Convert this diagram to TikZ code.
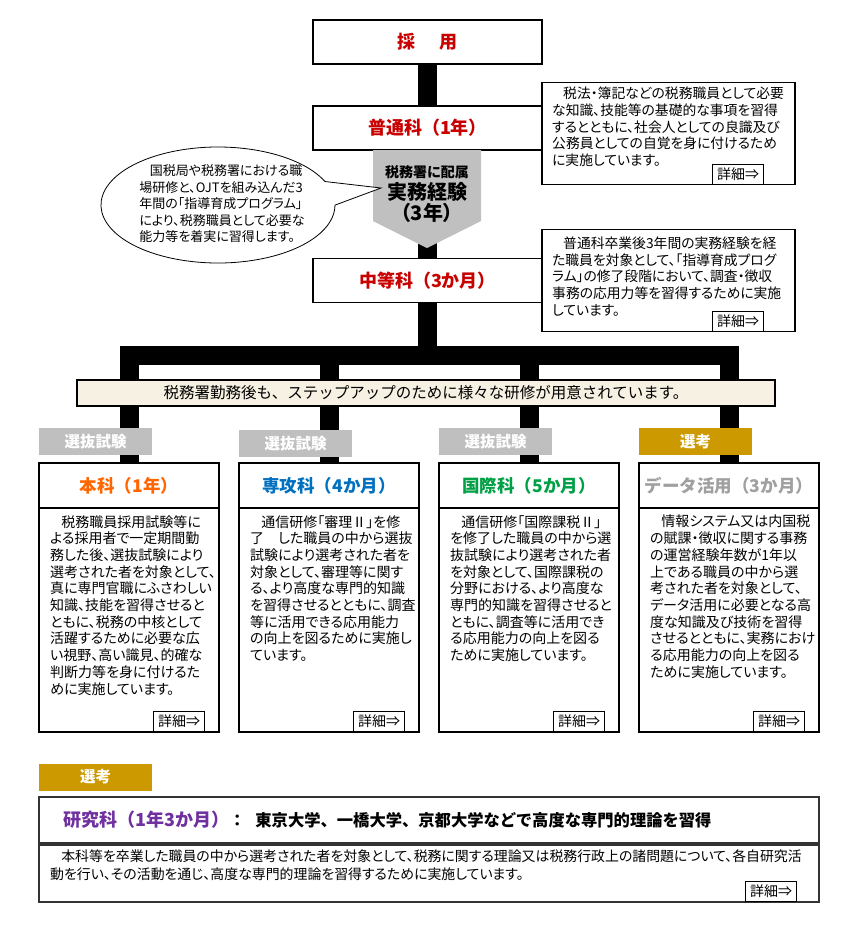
\documentclass[tikz,border=0pt]{standalone}
\usepackage{fontspec}
\setmainfont{Noto Sans CJK JP}[RawFeature={+palt}]
\newfontfamily\widefont{Noto Sans CJK JP}
\usetikzlibrary{positioning, shapes.callouts, backgrounds}
\definecolor{kred}{RGB}{200,0,0}
\definecolor{korange}{RGB}{255,102,0}
\definecolor{kblue}{RGB}{0,112,192}
\definecolor{kgreen}{RGB}{0,160,70}
\definecolor{kgray}{RGB}{160,160,160}
\definecolor{kpurple}{RGB}{112,48,160}
\definecolor{badgegray}{RGB}{191,191,191}
\definecolor{gold}{RGB}{204,153,0}
\definecolor{cream}{RGB}{246,241,226}
\definecolor{arrowgray}{RGB}{192,192,192}
\newcommand{\ind}{\hspace*{0.8em}}

\begin{document}
\begin{tikzpicture}[
    x=1pt, y=-1pt,
    boxframe/.style={rectangle, draw, fill=white, line width=1.1pt, inner sep=0pt, outer sep=0pt},
    mainbox/.style={boxframe, minimum width=229pt, minimum height=44pt, text=kred, font=\widefont\bfseries\fontsize{18}{22}\selectfont},
    descbox/.style={boxframe, minimum width=253pt, minimum height=102pt},
    desctext/.style={align=left, inner sep=0pt, anchor=north west, font=\fontsize{13.8}{16.7}\selectfont},
    detail/.style={draw, fill=white, line width=1pt, minimum width=51pt, minimum height=20pt, inner sep=0pt, anchor=south east, font=\fontsize{14}{16}\selectfont},
    course/.style={boxframe, minimum width=180pt, minimum height=45pt, font=\widefont\bfseries\fontsize{17.5}{20}\selectfont},
    coursebody/.style={boxframe, minimum width=180pt, minimum height=224pt},
    bodytext/.style={align=left, inner sep=0pt, anchor=north west, font=\fontsize{14}{16.7}\selectfont},
    badge/.style={fill=badgegray, text=white, minimum width=113pt, minimum height=27pt, inner sep=0pt, font=\bfseries\fontsize{15.5}{17}\selectfont},
    stem/.style={line width=19pt, black}
]
\useasboundingbox (0,0) rectangle (856,940);

% main column
\node[mainbox] (saiyo) at (427.5,42) {採\hspace{1.3em}用};
\node[mainbox, below=42pt of saiyo] (futsu) {普通科（1年）};
\node[mainbox] (chuto) at (427.5,280.5) {中等科（3か月）};
\coordinate (bar) at (427.5,355);

% 3 years on the job
\fill[arrowgray] (373,150) -- (481,150) -- (481,221) -- (427,248) -- (373,221) -- cycle;
\node[font=\bfseries\fontsize{14}{16}\selectfont] (haizoku) at (427,172) {税務署に配属};
\node[font=\bfseries\fontsize{20}{22}\selectfont] (jitsumu) at (427,192) {実務経験};
\node[font=\bfseries\fontsize{20}{22}\selectfont] (sannen) at (427,213) {（3年）};

\node[ellipse callout, draw, fill=white, line width=0.8pt, minimum width=234pt, minimum height=116pt,
      callout absolute pointer={(381,188)}, callout pointer arc=24] (bubble) at (218,205) {};
\node[align=left, inner sep=0pt, font=\fontsize{13}{16.5}\selectfont] (bubbletext) at (222,204)
    {\ind 国税局や税務署における職\\場研修と、OJTを組み込んだ3\\年間の「指導育成プログラム」\\により、税務職員として必要な\\能力等を着実に習得します。};

% descriptions on the right
\node[descbox] (futsuD) at (668.5,133.5) {};
\node[desctext] at ([shift={(10pt,-4.5pt)}]futsuD.north west)
    {\ind 税法・簿記などの税務職員として必要\\な知識、技能等の基礎的な事項を習得\\するとともに、社会人としての良識及び\\公務員としての自覚を身に付けるため\\に実施しています。};
\node[detail] at ([xshift=-31pt]futsuD.south east) {詳細⇒};

\node[descbox] (chutoD) at (668.5,280.5) {};
\node[desctext] at ([shift={(10pt,-7pt)}]chutoD.north west)
    {\ind 普通科卒業後3年間の実務経験を経\\た職員を対象として、「指導育成プログ\\ラム」の修了段階において、調査・徴収\\事務の応用力等を習得するために実施\\しています。};
\node[detail] at ([xshift=-31pt]chutoD.south east) {詳細⇒};

% four courses
\node[course, text=korange] (honka) at (129,485.5) {本科（1年）};
\node[course, text=kblue] (senko) at (329,485.5) {専攻科（4か月）};
\node[course, text=kgreen] (kokusai) at (529,485.5) {国際科（5か月）};
\node[course, text=kgray] (data) at (729,485.5) {データ活用（3か月）};

\node[coursebody, below=0pt of honka] (honkaB) {};
\node[coursebody, below=0pt of senko] (senkoB) {};
\node[coursebody, below=0pt of kokusai] (kokusaiB) {};
\node[coursebody, below=0pt of data] (dataB) {};

\node[bodytext] at ([shift={(11pt,-7pt)}]honkaB.north west)
    {\ind 税務職員採用試験等に\\よる採用者で一定期間勤\\務した後、選抜試験により\\選考された者を対象として、\\真に専門官職にふさわしい\\知識、技能を習得させると\\ともに、税務の中核として\\活躍するために必要な広\\い視野、高い識見、的確な\\判断力等を身に付けるた\\めに実施しています。};
\node[bodytext] at ([shift={(11pt,-7pt)}]senkoB.north west)
    {\ind 通信研修「審理Ⅱ」を修\\了　した職員の中から選抜\\試験により選考された者を\\対象として、審理等に関す\\る、より高度な専門的知識\\を習得させるとともに、調査\\等に活用できる応用能力\\の向上を図るために実施し\\ています。};
\node[bodytext] at ([shift={(11pt,-7pt)}]kokusaiB.north west)
    {\ind 通信研修「国際課税Ⅱ」\\を修了した職員の中から選\\抜試験により選考された者\\を対象として、国際課税の\\分野における、より高度な\\専門的知識を習得させると\\ともに、調査等に活用でき\\る応用能力の向上を図る\\ために実施しています。};
\node[bodytext] at ([shift={(11pt,-7pt)}]dataB.north west)
    {\ind 情報システム又は内国税\\の賦課・徴収に関する事務\\の運営経験年数が1年以\\上である職員の中から選\\考された者を対象として、\\データ活用に必要となる高\\度な知識及び技術を習得\\させるとともに、実務におけ\\る応用能力の向上を図る\\ために実施しています。};

\node[detail] at ([xshift=-14pt]honkaB.south east) {詳細⇒};
\node[detail] at ([xshift=-14pt]senkoB.south east) {詳細⇒};
\node[detail] at ([xshift=-14pt]kokusaiB.south east) {詳細⇒};
\node[detail] at ([xshift=-14pt]dataB.south east) {詳細⇒};

% tree of stems behind everything
\begin{scope}[on background layer]
\draw[stem] (saiyo) -- (bar);
\draw[stem] (honka.north) |- (bar) -| (data.north);
\draw[stem] (senko.north) -- (senko.north |- bar);
\draw[stem] (kokusai.north) -- (kokusai.north |- bar);
\end{scope}

\node[draw, fill=cream, line width=1.1pt, minimum width=698pt, minimum height=26pt,
      font=\widefont\fontsize{15.5}{18}\selectfont] (banner) at (426,393)
    {税務署勤務後も、ステップアップのために様々な研修が用意されています。};

\node[badge, anchor=south west] at ([yshift=8pt]honka.north west) {選抜試験};
\node[badge, anchor=south west] at ([yshift=6pt]senko.north west) {選抜試験};
\node[badge, anchor=south west] at ([yshift=8pt]kokusai.north west) {選抜試験};
\node[badge, anchor=south west, fill=gold] at ([yshift=8pt]data.north west) {選考};

% graduate research course
\node[badge, fill=gold] (kenkyuS) at (95.5,777) {選考};
\node[boxframe, draw=black!80, line width=1.5pt, minimum width=780pt, minimum height=46pt] (kenkyu) at (429,820) {};
\node[boxframe, draw=black!80, line width=1.5pt, minimum width=780pt, minimum height=57pt, below=2pt of kenkyu] (kenkyuB) {};
\node[anchor=west, inner sep=0pt] (kenkyuT) at ([xshift=24pt]kenkyu.west)
    {{\widefont\bfseries\fontsize{18}{20}\selectfont\color{kpurple}研究科（1年3か月）}{\widefont\bfseries\fontsize{16.3}{18}\selectfont ：\hspace{10pt}東京大学、一橋大学、京都大学などで高度な専門的理論を習得}};
\node[anchor=north west, align=left, inner sep=0pt, font=\fontsize{13.9}{18}\selectfont] at ([shift={(11pt,-5pt)}]kenkyuB.north west)
    {\ind 本科等を卒業した職員の中から選考された者を対象として、税務に関する理論又は税務行政上の諸問題について、各自研究活\\動を行い、その活動を通じ、高度な専門的理論を習得するために実施しています。};
\node[detail] at ([xshift=-22pt]kenkyuB.south east) {詳細⇒};

\end{tikzpicture}
\end{document}
